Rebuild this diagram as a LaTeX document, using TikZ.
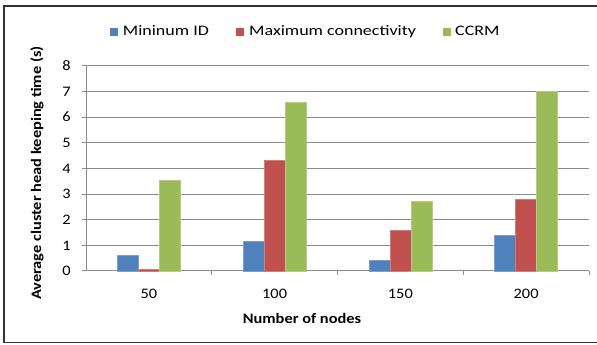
\documentclass[tikz,border=0pt]{standalone}
\usepackage{fontspec}
\newfontfamily\chartfont[FakeStretch=1.13]{Carlito}
\newfontfamily\legendfont[FakeStretch=1.24]{Carlito}
\definecolor{mincol}{HTML}{4F81BD}
\definecolor{maxcol}{HTML}{C0504D}
\definecolor{ccrmcol}{HTML}{9BBB59}
\definecolor{gridcol}{HTML}{8C8C8C}

\begin{document}
\begin{tikzpicture}[x=1pt,y=1pt,
        gridline/.style={gridcol,line width=1pt},
        ticklabel/.style={font=\chartfont\fontsize{14.5}{16}\selectfont,inner sep=0pt},
        axistitle/.style={font=\chartfont\bfseries\fontsize{14.5}{16}\selectfont,inner sep=0pt},
        legendlabel/.style={font=\legendfont\fontsize{14.5}{16}\selectfont,inner sep=0pt,anchor=base west}]
        \useasboundingbox (0,0) rectangle (597,345);
        \draw[black!80,line width=1.5pt](4,2.5)rectangle(610,339);

        % grid and axes
        \foreach \v in {1,...,8} \draw[gridline] (82,74+25.66*\v) -- (589,74+25.66*\v);
        \draw[gridline] (82,74) -- (589,74);
        \draw[gridline] (86,74) -- (86,74+25.66*8);
        \foreach \i in {1,...,4} \draw[gridline] (86+125.75*\i,74) -- ++(0,-4);
        \foreach \v in {0,...,8} \node[ticklabel,anchor=east] (y\v) at (71,74+25.66*\v) {\v};

        % bars
        \foreach \n/\a/\b/\g [count=\i from 0] in {50/0.6/0.06/3.55,100/1.15/4.3/6.57,150/0.4/1.6/2.7,200/1.4/2.8/7.0}{
            \pgfmathsetmacro\cx{86+125.75*(\i+0.5)}
            \filldraw[fill=mincol,draw=mincol!75!white,line width=0.5pt](\cx-31.5,74)rectangle(\cx-10.5,74+25.66*\a);
            \filldraw[fill=maxcol,draw=maxcol!75!white,line width=0.5pt](\cx-10.5,74)rectangle(\cx+10.5,74+25.66*\b);
            \filldraw[fill=ccrmcol,draw=ccrmcol!75!white,line width=0.5pt](\cx+10.5,74)rectangle(\cx+31.5,74+25.66*\g);
            \node[ticklabel,anchor=base] (x\i) at (\cx,46.7) {\n};
        }

        % titles
        \node[axistitle,anchor=base] (xtitle) at (302,21) {Number of nodes};
        \node[axistitle,rotate=90] (ytitle) at (37,172) {Average cluster head keeping time (s)};

        % legend
        \fill[mincol](110,309.3)rectangle++(8,8);
        \node[legendlabel] (lmin) at (122.7,309.3) {Mininum ID};
        \fill[maxcol](236,309.3)rectangle++(8,8);
        \node[legendlabel] (lmax) at (249,309.3) {Maximum connectivity};
        \fill[ccrmcol](443,309.3)rectangle++(8,8);
        \node[legendlabel] (lccrm) at (455,309.3) {CCRM};
    \end{tikzpicture}
\end{document}
